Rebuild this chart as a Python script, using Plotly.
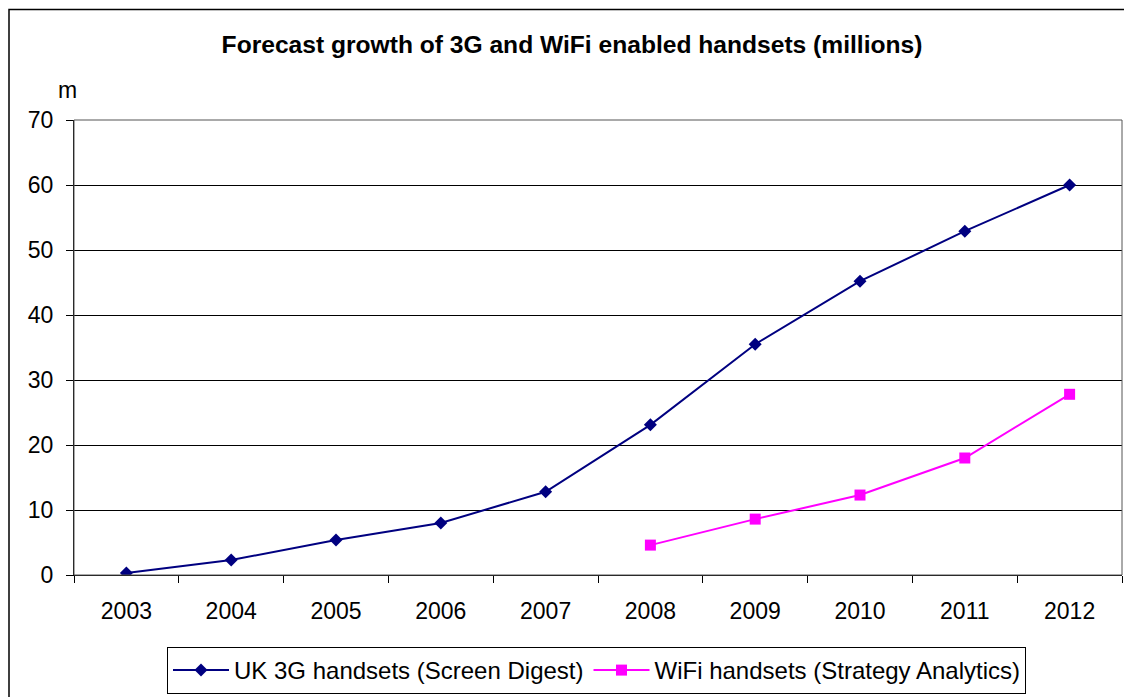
import plotly.graph_objects as go

years = ["2003", "2004", "2005", "2006", "2007", "2008", "2009", "2010", "2011", "2012"]
uk3g = [0.3, 2.3, 5.4, 8.0, 12.8, 23.1, 35.5, 45.2, 52.9, 60.0]
wifi_years = ["2008", "2009", "2010", "2011", "2012"]
wifi = [4.6, 8.6, 12.3, 18.0, 27.8]
yticks = [0, 10, 20, 30, 40, 50, 60, 70]

fig = go.Figure()
fig.add_trace(go.Scatter(
    x=years, y=uk3g, mode="lines+markers", name="UK 3G handsets (Screen Digest)",
    line=dict(color="#000080", width=2),
    marker=dict(symbol="diamond", size=10, color="#000080")))
fig.add_trace(go.Scatter(
    x=wifi_years, y=wifi, mode="lines+markers", name="WiFi handsets (Strategy Analytics)",
    line=dict(color="#FF00FF", width=2),
    marker=dict(symbol="square", size=11, color="#FF00FF")))

# page body has an 8px margin
OFF = 8
W, H = 1132 - OFF, 697
L, R, T = 74 - OFF, 10, 120 - OFF
y0px = 575 - OFF  # pixel row of y=0 within figure
B = H - y0px
pw, ph = W - L - R, H - T - B

def px_x(fx):  # figure pixel -> paper x
    return (fx - L) / pw

def px_y(fy):  # figure pixel -> paper y
    return (y0px - fy) / ph

fig.update_layout(
    width=W, height=H,
    margin=dict(l=L, r=R, t=T, b=B, autoexpand=False),
    paper_bgcolor="white", plot_bgcolor="white",
    font=dict(family="Liberation Sans, Arial, sans-serif", size=23, color="black"),
    title=dict(text="<b>Forecast growth of 3G and WiFi enabled handsets (millions)</b>",
               x=(572 - OFF) / W, xanchor="center", y=1 - (44 - OFF) / H, yanchor="middle",
               font=dict(size=24.6)),
    xaxis=dict(type="category", categoryorder="array", categoryarray=years,
               tickson="boundaries", ticks="outside", ticklen=7, tickcolor="black",
               showline=True, linecolor="black", linewidth=1, mirror=False,
               showgrid=False, ticklabelstandoff=15, tickfont=dict(size=23),
               range=[-0.5, 9.5], automargin=False),
    yaxis=dict(range=[0, 70], tickvals=yticks, ticks="outside", ticklen=7, tickcolor="black",
               showline=True, linecolor="black", linewidth=1,
               showgrid=True, gridcolor="black", gridwidth=1, zeroline=False,
               ticklabelstandoff=8, tickfont=dict(size=23), automargin=False),
    legend=dict(orientation="h", x=px_x(596.5 - OFF), xanchor="center",
                y=px_y(647 - OFF), yanchor="top",
                bordercolor="black", borderwidth=1, bgcolor="white",
                font=dict(size=24), itemwidth=56),
    annotations=[dict(text="m", xref="paper", yref="paper",
                      x=px_x(67 - OFF), y=px_y(90 - OFF),
                      xanchor="center", yanchor="middle", showarrow=False,
                      font=dict(size=23))],
    shapes=[
        dict(type="rect", xref="paper", yref="paper", x0=0, x1=1, y0=0, y1=1,
             line=dict(color="#555555", width=1), fillcolor="rgba(0,0,0,0)", layer="above"),
        dict(type="rect", xref="paper", yref="paper",
             x0=px_x(1), x1=px_x(W + 30),
             y0=px_y(H + 30), y1=px_y(1.5),
             line=dict(color="black", width=1.5), fillcolor="rgba(0,0,0,0)", layer="below"),
    ],
)

fig.write_html("out.html")
